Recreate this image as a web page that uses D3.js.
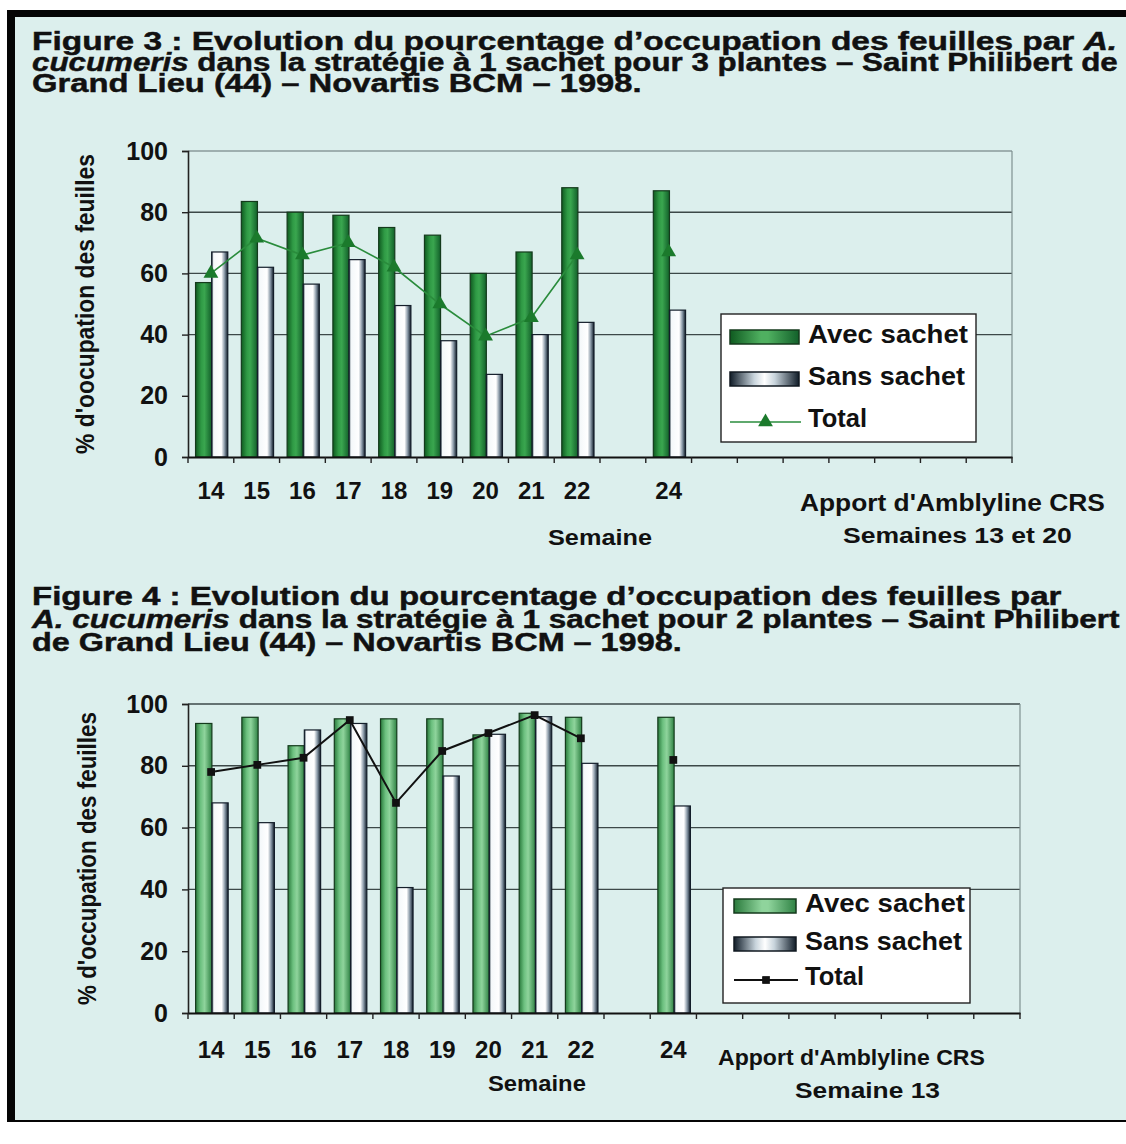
<!DOCTYPE html>
<html><head><meta charset="utf-8">
<script src="https://cdn.jsdelivr.net/npm/d3@7"></script>
<style>
html,body{margin:0;padding:0;background:#fff}
svg{display:block}
text{font-family:"Liberation Sans",Arial,Helvetica,sans-serif;font-weight:bold;fill:#111}
</style>
</head><body>
<svg id="c" width="1126" height="1144"></svg>
<script>
// ---------- data ----------
const weeks = [14,15,16,17,18,19,20,21,22,23,24,25,26,27,28,29,30,31];
const labeledWeeks = [14,15,16,17,18,19,20,21,22,24];
const dataWeeks = [14,15,16,17,18,19,20,21,22,24];
const yTicks = [0,20,40,60,80,100];
const seriesNames = ["Avec sachet","Sans sachet","Total"];

const fig3Avec  = [57, 83.5, 80, 79, 75, 72.5, 60, 67, 88, 87];
const fig3Sans  = [67, 62, 56.5, 64.5, 49.5, 38, 27, 40, 44, 48];
const fig3Total = [60, 71.5, 66, 70, 62, 50, 39.5, 45.5, 66, 67];

const fig4Avec  = [93.7, 95.7, 86.5, 95.2, 95.2, 95.2, 90, 97, 95.7, 95.7];
const fig4Sans  = [68, 61.6, 91.6, 93.7, 40.6, 76.7, 90.2, 95.9, 80.8, 67];
const fig4Total = [78, 80.3, 82.6, 94.8, 68, 84.8, 90.6, 96.4, 88.9, 81.9];

const fig3Title = [
  [{t:"Figure 3 : Evolution du pourcentage d\u2019occupation des feuilles par "},{t:"A.",i:true}],
  [{t:"cucumeris",i:true},{t:" dans la strat\u00e9gie \u00e0 1 sachet pour 3 plantes \u2013 Saint Philibert de"}],
  [{t:"Grand Lieu (44) \u2013 Novartis BCM \u2013 1998."}]
];
const fig4Title = [
  [{t:"Figure 4 : Evolution du pourcentage d\u2019occupation des feuilles par"}],
  [{t:"A. cucumeris",i:true},{t:" dans la strat\u00e9gie \u00e0 1 sachet pour 2 plantes \u2013 Saint Philibert"}],
  [{t:"de Grand Lieu (44) \u2013 Novartis BCM \u2013 1998."}]
];

// ---------- drawing ----------
const svg = d3.select("#c");
const defs = svg.append("defs");

function hGrad(id, stops){
  const g = defs.append("linearGradient").attr("id",id).attr("x1","0%").attr("x2","100%").attr("y1","0%").attr("y2","0%");
  stops.forEach(s=>g.append("stop").attr("offset",s[0]).attr("stop-color",s[1]));
}
hGrad("g1",[["0%","#0f5a20"],["35%","#2f9a45"],["55%","#3aa64f"],["100%","#12602a"]]);
hGrad("g2",[["0%","#2a7a3c"],["30%","#6cc07f"],["55%","#8fd49c"],["100%","#2f8244"]]);
hGrad("w1",[["0%","#22323f"],["12%","#f4f8fa"],["60%","#ffffff"],["80%","#8898a6"],["100%","#101c28"]]);
hGrad("lg1",[["0%","#0f5a20"],["45%","#4fb060"],["55%","#4fb060"],["100%","#12602a"]]);
hGrad("lg2",[["0%","#2a7a3c"],["45%","#8fd49c"],["55%","#8fd49c"],["100%","#2f8244"]]);
hGrad("lw",[["0%","#101c28"],["35%","#c8d4dc"],["50%","#ffffff"],["65%","#c8d4dc"],["100%","#101c28"]]);

// page
svg.append("rect").attr("x",0).attr("y",0).attr("width",1126).attr("height",1144).attr("fill","#ffffff");
svg.append("rect").attr("x",7).attr("y",10).attr("width",1119).attr("height",1112).attr("fill","#050505");
svg.append("rect").attr("x",15).attr("y",17).attr("width",1111).attr("height",1103).attr("fill","#dcefed");

function fitText(sel, w){
  const len = sel.node().getComputedTextLength();
  if(len>0){
    const tr = sel.attr("transform")||"";
    sel.attr("transform", tr + ` scale(${w/len},1)`);
  }
}

function drawTitle(lines, x, baselines, widths, size){
  lines.forEach((parts,k)=>{
    const t = svg.append("text").attr("font-size",size)
      .attr("stroke","#111").attr("stroke-width",0.45)
      .attr("transform",`translate(${x},${baselines[k]})`);
    parts.forEach(p=>t.append("tspan").text(p.t).attr("font-style",p.i?"italic":"normal"));
    fitText(t, widths[k]);
  });
}

function label(txt, x, y, w, size){
  const t = svg.append("text").attr("transform",`translate(${x},${y})`).attr("font-size",size).text(txt);
  if(w) fitText(t,w);
  return t;
}

function drawChart(cfg){
  const g = svg.append("g");
  const x = d3.scaleBand().domain(weeks).range([cfg.left, cfg.right]).paddingInner(0).paddingOuter(0);
  const y = d3.scaleLinear().domain([0,100]).range([cfg.bottom, cfg.top]);
  const bw = x.bandwidth();

  g.selectAll("line.grid").data(cfg.grid).join("line")
    .attr("x1",cfg.left).attr("x2",cfg.right)
    .attr("y1",d=>y(d)).attr("y2",d=>y(d))
    .attr("stroke","#3c4848").attr("stroke-width",1.4);
  g.append("line").attr("x1",cfg.left).attr("x2",cfg.right).attr("y1",y(100)).attr("y2",y(100))
    .attr("stroke",cfg.topColor).attr("stroke-width",1.3);
  g.append("line").attr("x1",cfg.right).attr("x2",cfg.right).attr("y1",y(100)).attr("y2",y(0))
    .attr("stroke","#7f9090").attr("stroke-width",1.2);

  const rows = dataWeeks.map((w,i)=>({w, a:cfg.avec[i], s:cfg.sans[i], t:cfg.total[i]}));
  const bx = w => x(w) + 0.165*bw;
  const bwid = 0.352*bw;

  g.selectAll("rect.avec").data(rows).join("rect")
    .attr("x",d=>bx(d.w)).attr("width",bwid)
    .attr("y",d=>y(d.a)).attr("height",d=>y(0)-y(d.a))
    .attr("fill",`url(#${cfg.greenGrad})`).attr("stroke","#143a1c").attr("stroke-width",1.2);
  g.selectAll("rect.sans").data(rows).join("rect")
    .attr("x",d=>bx(d.w)+bwid).attr("width",bwid)
    .attr("y",d=>y(d.s)).attr("height",d=>y(0)-y(d.s))
    .attr("fill","url(#w1)").attr("stroke","#141e2a").attr("stroke-width",1.2);

  const lineData = weeks.filter(w=>w<=24).map(w=>{
    const i = dataWeeks.indexOf(w);
    return {w, v: i>=0 ? cfg.total[i] : null};
  });
  const line = d3.line().defined(d=>d.v!=null).x(d=>x(d.w)+bw/2).y(d=>y(d.v));
  g.append("path").datum(lineData).attr("d",line).attr("fill","none")
    .attr("stroke",cfg.lineColor).attr("stroke-width",cfg.lineWidth);
  g.selectAll("path.mk").data(rows).join("path")
    .attr("transform",d=>`translate(${x(d.w)+bw/2},${y(d.t)})`)
    .attr("d",d3.symbol(cfg.marker==="tri"?d3.symbolTriangle:d3.symbolSquare).size(cfg.markerSize))
    .attr("fill",cfg.markerColor);

  const ya = d3.axisLeft(y).tickValues(yTicks).tickSize(6).tickPadding(14);
  const yg = g.append("g").attr("transform",`translate(${cfg.left},0)`).call(ya);
  yg.select(".domain").attr("stroke","#222").attr("stroke-width",1.6);
  yg.selectAll(".tick line").attr("stroke","#222").attr("stroke-width",1.4);
  yg.selectAll(".tick text").attr("font-size",25).attr("font-family","Liberation Sans, Arial, sans-serif")
    .attr("font-weight","bold").attr("fill","#111");

  const xa = d3.axisBottom(x).tickSize(0).tickPadding(0)
    .tickFormat(d=>labeledWeeks.includes(d)?String(d):"");
  const xg = g.append("g").attr("transform",`translate(0,${cfg.bottom})`).call(xa);
  xg.select(".domain").attr("stroke","#111").attr("stroke-width",1.8);
  xg.selectAll(".tick text").attr("font-size",24).attr("dy",null).attr("y",cfg.xLabelDy)
    .attr("font-family","Liberation Sans, Arial, sans-serif").attr("font-weight","bold").attr("fill","#111");
  const bounds = weeks.map(w=>x(w)).concat([cfg.right]);
  g.selectAll("line.xt").data(bounds).join("line")
    .attr("x1",d=>d).attr("x2",d=>d).attr("y1",cfg.bottom).attr("y2",cfg.bottom+6)
    .attr("stroke","#222").attr("stroke-width",1.4);

  const yl = svg.append("text").attr("transform",`translate(${cfg.yLabelX},${(cfg.top+cfg.bottom)/2}) rotate(-90)`)
    .attr("text-anchor","middle").attr("dy","0.35em").attr("font-size",26).text(cfg.yLabel);
  fitText(yl, cfg.yLabelLen);

  const L = cfg.legend;
  svg.append("rect").attr("x",L.x).attr("y",L.y).attr("width",L.w).attr("height",L.h)
    .attr("fill","#ffffff").attr("stroke","#222").attr("stroke-width",1.4);
  svg.append("rect").attr("x",L.sx).attr("y",L.r1-13).attr("width",L.sw).attr("height",14)
    .attr("fill",`url(#${cfg.legendGreen})`).attr("stroke","#143a1c").attr("stroke-width",1.5);
  svg.append("rect").attr("x",L.sx).attr("y",L.r2-13).attr("width",L.sw).attr("height",14)
    .attr("fill","url(#lw)").attr("stroke","#101820").attr("stroke-width",1.5);
  svg.append("line").attr("x1",L.sx).attr("x2",L.sx+L.sw+2).attr("y1",L.r3-5).attr("y2",L.r3-5)
    .attr("stroke",cfg.lineColor).attr("stroke-width",cfg.lineWidth);
  svg.append("path").attr("transform",`translate(${L.sx+L.sw/2+1},${L.r3-5})`)
    .attr("d",d3.symbol(cfg.marker==="tri"?d3.symbolTriangle:d3.symbolSquare).size(cfg.markerSize))
    .attr("fill",cfg.markerColor);
  label(seriesNames[0], L.tx, L.r1, 160, 25);
  label(seriesNames[1], L.tx, L.r2, 157, 25);
  label(seriesNames[2], L.tx, L.r3, 59, 25);
}

// Figure 3
drawTitle(fig3Title, 32, [50, 71, 92], [1086, 1086, 610], 25);
drawChart({
  left:188, right:1012, top:151, bottom:457,
  avec:fig3Avec, sans:fig3Sans, total:fig3Total,
  grid:[40,60,80], topColor:"#8a9a9a",
  greenGrad:"g1", legendGreen:"lg1",
  lineColor:"#2a8c3c", lineWidth:1.6, marker:"tri", markerSize:95, markerColor:"#1b7a2c",
  xLabelDy:42,
  yLabel:"% d'oocupation des feuilles", yLabelX:85, yLabelLen:300,
  legend:{x:721,y:314,w:255,h:128, sx:730, sw:69, tx:808, r1:343, r2:385, r3:427}
});
label("Semaine", 548, 545, 104, 22);
label("Apport d'Amblyline CRS", 800, 511, 305, 24);
label("Semaines 13 et 20", 843, 543, 229, 22);

// Figure 4
drawTitle(fig4Title, 32, [605, 628, 651], [1030, 1088, 650], 25);
drawChart({
  left:188, right:1020, top:704, bottom:1013,
  avec:fig4Avec, sans:fig4Sans, total:fig4Total,
  grid:[40,60,80], topColor:"#3c4848",
  greenGrad:"g2", legendGreen:"lg2",
  lineColor:"#111", lineWidth:2, marker:"sq", markerSize:60, markerColor:"#111",
  xLabelDy:45,
  yLabel:"% d'occupation des feuilles", yLabelX:87, yLabelLen:293,
  legend:{x:723,y:888,w:247,h:115, sx:734, sw:62, tx:805, r1:912, r2:950, r3:985}
});
label("Semaine", 488, 1091, 98, 22);
label("Apport d'Amblyline CRS", 718, 1065, 267, 22);
label("Semaine 13", 795, 1098, 145, 22);
</script>
</body></html>
